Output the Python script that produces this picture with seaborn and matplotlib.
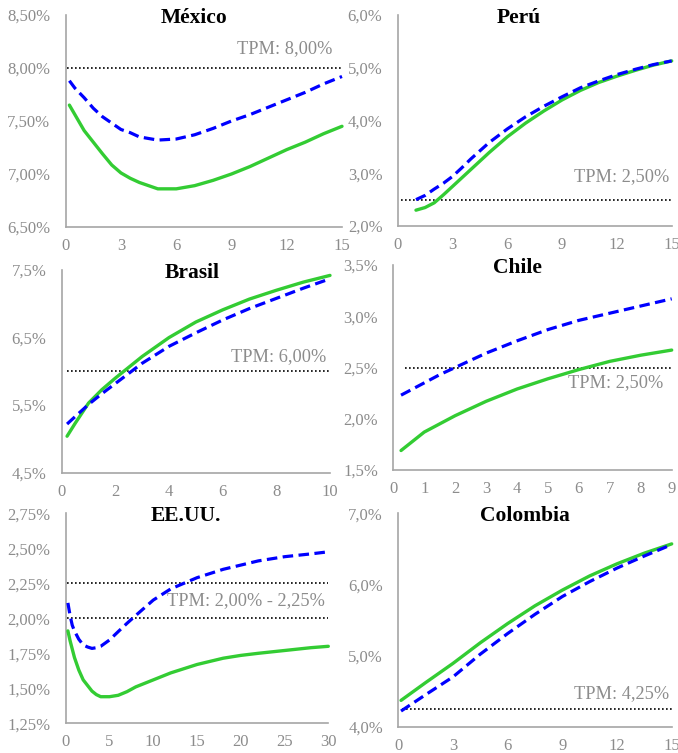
import matplotlib
matplotlib.use("Agg")
import matplotlib.pyplot as plt
import seaborn as sns
import pandas as pd

sns.set_style("white")
plt.rcParams['font.family'] = ['Liberation Serif', 'DejaVu Serif']

# ---------------- data ----------------
mex_x = [0.2, 0.5, 1, 1.5, 2, 2.5, 3, 3.5, 4, 4.5, 5, 6, 7, 8, 9, 10, 11, 12, 13, 14, 15]
mex_green = [7.65, 7.56, 7.41, 7.30, 7.19, 7.085, 7.01, 6.96, 6.92, 6.89, 6.86, 6.86, 6.89, 6.94, 7.00, 7.07, 7.15, 7.23, 7.30, 7.38, 7.45]
mex_blue = [7.88, 7.81, 7.72, 7.62, 7.54, 7.48, 7.42, 7.39, 7.35, 7.335, 7.32, 7.33, 7.37, 7.43, 7.50, 7.56, 7.63, 7.70, 7.77, 7.85, 7.92]
mex_tpm = [8.00]
mex_label = "TPM: 8,00%"
mex_yticks = [6.5, 7.0, 7.5, 8.0, 8.5]
mex_xticks = [0, 3, 6, 9, 12, 15]

per_x = [1, 1.5, 2, 2.5, 3, 3.5, 4, 5, 6, 7, 8, 9, 10, 11, 12, 13, 14, 15]
per_green = [2.30, 2.35, 2.44, 2.59, 2.75, 2.91, 3.07, 3.39, 3.69, 3.95, 4.18, 4.39, 4.57, 4.72, 4.84, 4.95, 5.05, 5.13]
per_blue = [2.50, 2.58, 2.70, 2.81, 2.94, 3.10, 3.27, 3.58, 3.84, 4.07, 4.27, 4.45, 4.62, 4.75, 4.87, 4.97, 5.06, 5.13]
per_tpm = [2.50]
per_label = "TPM: 2,50%"
per_yticks = [2.0, 3.0, 4.0, 5.0, 6.0]
per_xticks = [0, 3, 6, 9, 12, 15]

bra_x = [0.2, 0.5, 1, 1.5, 2, 3, 4, 5, 6, 7, 8, 9, 10]
bra_green = [5.04, 5.23, 5.53, 5.73, 5.90, 6.22, 6.50, 6.73, 6.91, 7.07, 7.20, 7.32, 7.42]
bra_blue = [5.22, 5.33, 5.51, 5.67, 5.82, 6.12, 6.37, 6.57, 6.76, 6.93, 7.08, 7.23, 7.37]
bra_tpm = [6.00]
bra_label = "TPM: 6,00%"
bra_yticks = [4.5, 5.5, 6.5, 7.5]
bra_xticks = [0, 2, 4, 6, 8, 10]

chi_x = [0.25, 0.5, 1, 1.5, 2, 3, 4, 5, 6, 7, 8, 9]
chi_green = [1.69, 1.75, 1.87, 1.95, 2.03, 2.17, 2.29, 2.39, 2.48, 2.56, 2.62, 2.67]
chi_blue = [2.23, 2.27, 2.35, 2.43, 2.50, 2.64, 2.76, 2.87, 2.96, 3.03, 3.10, 3.17]
chi_tpm = [2.50]
chi_label = "TPM: 2,50%"
chi_yticks = [1.5, 2.0, 2.5, 3.0, 3.5]
chi_xticks = [0, 1, 2, 3, 4, 5, 6, 7, 8, 9]

usa_x = [0.25, 0.5, 0.75, 1, 1.5, 2, 2.5, 3, 3.5, 4, 5, 6, 7, 8, 10, 12, 15, 18, 20, 22, 25, 28, 30]
usa_green = [1.91, 1.84, 1.78, 1.72, 1.63, 1.56, 1.52, 1.48, 1.455, 1.44, 1.44, 1.45, 1.476, 1.51, 1.56, 1.61, 1.67, 1.715, 1.735, 1.75, 1.77, 1.79, 1.80]
usa_blue = [2.11, 2.02, 1.95, 1.91, 1.85, 1.81, 1.795, 1.785, 1.79, 1.80, 1.845, 1.905, 1.964, 2.02, 2.13, 2.21, 2.29, 2.35, 2.38, 2.41, 2.44, 2.46, 2.475]
usa_tpm = [2.00, 2.25]
usa_label = "TPM: 2,00% - 2,25%"
usa_yticks = [1.25, 1.50, 1.75, 2.00, 2.25, 2.50, 2.75]
usa_xticks = [0, 5, 10, 15, 20, 25, 30]

col_x = [0.15, 1.5, 3, 4.5, 6, 7.5, 9, 10.5, 12, 13.5, 15]
col_green = [4.37, 4.62, 4.89, 5.18, 5.45, 5.70, 5.92, 6.12, 6.29, 6.44, 6.57]
col_blue = [4.22, 4.45, 4.70, 5.02, 5.31, 5.58, 5.83, 6.04, 6.23, 6.40, 6.56]
col_tpm = [4.25]
col_label = "TPM: 4,25%"
col_yticks = [4.0, 5.0, 6.0, 7.0]
col_xticks = [0, 3, 6, 9, 12, 15]

# ---------------- layout ----------------
W, H = 678, 753
fig = plt.figure(figsize=(W / 100, H / 100), dpi=100)

GREEN = "#33CC33"
BLUE = "#0000FF"
TICKC = "#8C8C8C"
SPINEC = "#A6A6A6"

panels = [
    ("México", mex_x, mex_green, mex_blue, mex_tpm, mex_label, mex_yticks, mex_xticks, 2,
     (65.7, 15, 342, 227), 0.05, (14.5, 8.18), 194),
    ("Perú", per_x, per_green, per_blue, per_tpm, per_label, per_yticks, per_xticks, 1,
     (397.7, 15, 671.7, 226), 0.2, (14.85, 2.93), 519),
    ("Brasil", bra_x, bra_green, bra_blue, bra_tpm, bra_label, bra_yticks, bra_xticks, 1,
     (61.7, 270, 330, 472.7), 0.19, (9.85, 6.22), 192),
    ("Chile", chi_x, chi_green, chi_blue, chi_tpm, chi_label, chi_yticks, chi_xticks, 1,
     (393.3, 265, 671.7, 470), 0.38, (8.72, 2.35), 517),
    ("EE.UU.", usa_x, usa_green, usa_blue, usa_tpm, usa_label, usa_yticks, usa_xticks, 2,
     (65.7, 513.3, 328.3, 723.3), 0.1, (29.6, 2.13), 186),
    ("Colombia", col_x, col_green, col_blue, col_tpm, col_label, col_yticks, col_xticks, 1,
     (398.3, 513.3, 671.7, 726.7), 0.18, (14.85, 4.47), 525),
]

for (title, xs, g, b, tpm, label, yt, xt, dec, box, dstart, lpos, tx) in panels:
    l, t, r, bt = box
    ax = fig.add_axes([l / W, 1 - bt / H, (r - l) / W, (bt - t) / H])
    ax.set_facecolor("none")
    df = pd.DataFrame({"x": xs, "g": g, "b": b})
    for lvl in tpm:
        ax.plot([dstart, xt[-1]], [lvl, lvl], color="black", lw=1.2,
                linestyle=(0, (1, 1.4)), zorder=1)
    sns.lineplot(data=df, x="x", y="g", ax=ax, color=GREEN, lw=2.4, zorder=3)
    sns.lineplot(data=df, x="x", y="b", ax=ax, color=BLUE, lw=2.3, zorder=4,
                 dashes=False, linestyle=(0, (3.3, 1.7)))
    ax.set_xlim(xt[0], xt[-1])
    ax.set_ylim(yt[0], yt[-1])
    ax.set_xticks(xt)
    ax.set_yticks(yt)
    ax.set_xticklabels([str(v) for v in xt])
    ax.set_yticklabels([f"{v:.{dec}f}".replace(".", ",") + "%" for v in yt])
    ax.set_xlabel("")
    ax.set_ylabel("")
    ax.tick_params(axis="both", length=0, labelsize=12, colors=TICKC)
    ax.tick_params(axis="y", pad=11)
    ax.tick_params(axis="x", pad=8)
    for s in ["top", "right"]:
        ax.spines[s].set_visible(False)
    for s in ["left", "bottom"]:
        ax.spines[s].set_color(SPINEC)
        ax.spines[s].set_linewidth(1.2)
    ax.text(lpos[0], lpos[1], label, ha="right", va="center", fontsize=13.2, color=TICKC)
    fig.text(tx / W, 1 - (t + 3) / H, title, ha="center", va="center",
             fontsize=15.5, fontweight="bold", color="black")
    for line in ax.lines:
        line.set_clip_on(False)
        line.set_solid_joinstyle("round")
        line.set_dash_joinstyle("round")

fig.savefig("out.png", dpi=100)
